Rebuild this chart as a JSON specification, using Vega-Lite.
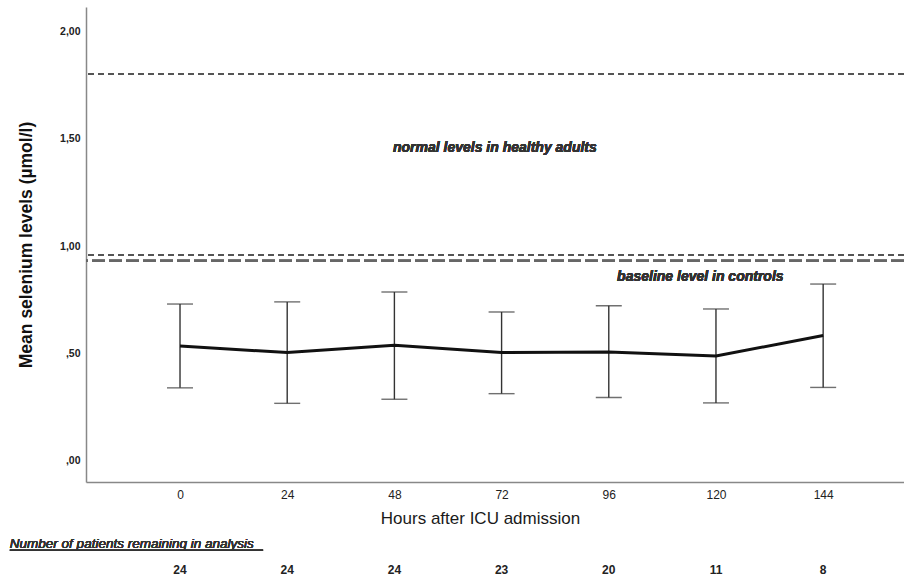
{
  "$schema": "https://vega.github.io/schema/vega-lite/v6.json",
  "autosize": {"type": "none"},
  "width": 818,
  "height": 475,
  "padding": {"left": 86, "top": 7, "right": 0, "bottom": 101},
  "background": "white",
  "config": {"view": {"stroke": null}, "font": "Liberation Sans"},
  "data": {
    "values": [
      {"hours": 0, "mean": 0.535, "lo": 0.340, "hi": 0.730, "n": 24},
      {"hours": 24, "mean": 0.504, "lo": 0.268, "hi": 0.740, "n": 24},
      {"hours": 48, "mean": 0.538, "lo": 0.287, "hi": 0.786, "n": 24},
      {"hours": 72, "mean": 0.504, "lo": 0.313, "hi": 0.693, "n": 23},
      {"hours": 96, "mean": 0.507, "lo": 0.295, "hi": 0.722, "n": 20},
      {"hours": 120, "mean": 0.488, "lo": 0.270, "hi": 0.707, "n": 11},
      {"hours": 144, "mean": 0.584, "lo": 0.342, "hi": 0.823, "n": 8}
    ]
  },
  "layer": [
    {
      "mark": {"type": "rule", "stroke": "#555555", "strokeWidth": 1.3, "strokeDash": [6, 4]},
      "encoding": {"y": {"datum": 1.80, "type": "quantitative", "scale": {"domain": [-0.098, 2.112], "nice": false, "zero": false}}}
    },
    {
      "mark": {"type": "rule", "stroke": "#555555", "strokeWidth": 1.3, "strokeDash": [6, 4]},
      "encoding": {"y": {"datum": 0.957, "type": "quantitative"}}
    },
    {
      "mark": {"type": "rule", "stroke": "#666666", "strokeWidth": 1.6, "strokeDash": [13, 4]},
      "encoding": {"y": {"datum": 0.932, "type": "quantitative"}}
    },
    {
      "mark": {"type": "rule", "stroke": "#333333", "strokeWidth": 1.4},
      "encoding": {
        "x": {
          "field": "hours", "type": "quantitative",
          "scale": {"domain": [-21.05, 162.1], "nice": false, "zero": false},
          "axis": {
            "values": [0, 24, 48, 72, 96, 120, 144],
            "title": "Hours after ICU admission",
            "titleFontSize": 17,
            "titleFontWeight": "normal",
            "titleColor": "#1a1a1a",
            "titlePadding": 10,
            "titleX": 394,
            "labelFontSize": 12,
            "labelColor": "#222222",
            "labelPadding": 7,
            "ticks": false,
            "grid": false,
            "domainColor": "#888888",
            "domainWidth": 1.5
          }
        },
        "y": {
          "field": "lo", "type": "quantitative",
          "axis": {
            "values": [0, 0.5, 1, 1.5, 2],
            "labelExpr": "datum.value < 1 ? ',' + substring(format(datum.value, '.2f'), 2) : replace(format(datum.value, '.2f'), '.', ',')",
            "title": "Mean selenium levels (µmol/l)",
            "titleFontSize": 17.5,
            "titleFontWeight": "bold",
            "titleColor": "#111111",
            "titlePadding": 24,
            "labelFontSize": 10.5,
            "labelFontWeight": "bold",
            "labelColor": "#222222",
            "labelPadding": 6,
            "ticks": false,
            "grid": false,
            "domainColor": "#888888",
            "domainWidth": 1.5
          }
        },
        "y2": {"field": "hi"}
      }
    },
    {
      "mark": {"type": "tick", "orient": "horizontal", "size": 26, "thickness": 1.4, "color": "#333333"},
      "encoding": {
        "x": {"field": "hours", "type": "quantitative"},
        "y": {"field": "hi", "type": "quantitative"}
      }
    },
    {
      "mark": {"type": "tick", "orient": "horizontal", "size": 26, "thickness": 1.4, "color": "#333333"},
      "encoding": {
        "x": {"field": "hours", "type": "quantitative"},
        "y": {"field": "lo", "type": "quantitative"}
      }
    },
    {
      "mark": {"type": "line", "stroke": "#111111", "strokeWidth": 3},
      "encoding": {
        "x": {"field": "hours", "type": "quantitative"},
        "y": {"field": "mean", "type": "quantitative"}
      }
    },
    {
      "mark": {"type": "text", "text": "normal levels in healthy adults", "fontSize": 14, "fontWeight": "bold", "fontStyle": "italic", "fill": "#333333", "align": "center", "baseline": "middle"},
      "encoding": {"x": {"datum": 70.5, "type": "quantitative"}, "y": {"datum": 1.456, "type": "quantitative"}}
    },
    {
      "mark": {"type": "text", "text": "baseline level in controls", "fontSize": 14, "fontWeight": "bold", "fontStyle": "italic", "fill": "#333333", "align": "center", "baseline": "middle"},
      "encoding": {"x": {"datum": 116.5, "type": "quantitative"}, "y": {"datum": 0.856, "type": "quantitative"}}
    },
    {
      "mark": {"type": "text", "text": "Number of patients remaining in analysis", "fontSize": 13.5, "fontStyle": "italic", "fill": "#333333", "align": "left", "baseline": "alphabetic"},
      "encoding": {"x": {"datum": -38.1, "type": "quantitative"}, "y": {"datum": -0.405, "type": "quantitative"}}
    },
    {
      "mark": {"type": "rule", "stroke": "#333333", "strokeWidth": 1},
      "encoding": {"x": {"datum": -38.1, "type": "quantitative"}, "x2": {"datum": 18.6}, "y": {"datum": -0.415, "type": "quantitative"}}
    },
    {
      "mark": {"type": "text", "fontSize": 12, "fontWeight": "bold", "fill": "#222222", "align": "center", "baseline": "middle"},
      "encoding": {
        "x": {"field": "hours", "type": "quantitative"},
        "y": {"datum": -0.507, "type": "quantitative"},
        "text": {"field": "n", "type": "nominal"}
      }
    }
  ]
}
